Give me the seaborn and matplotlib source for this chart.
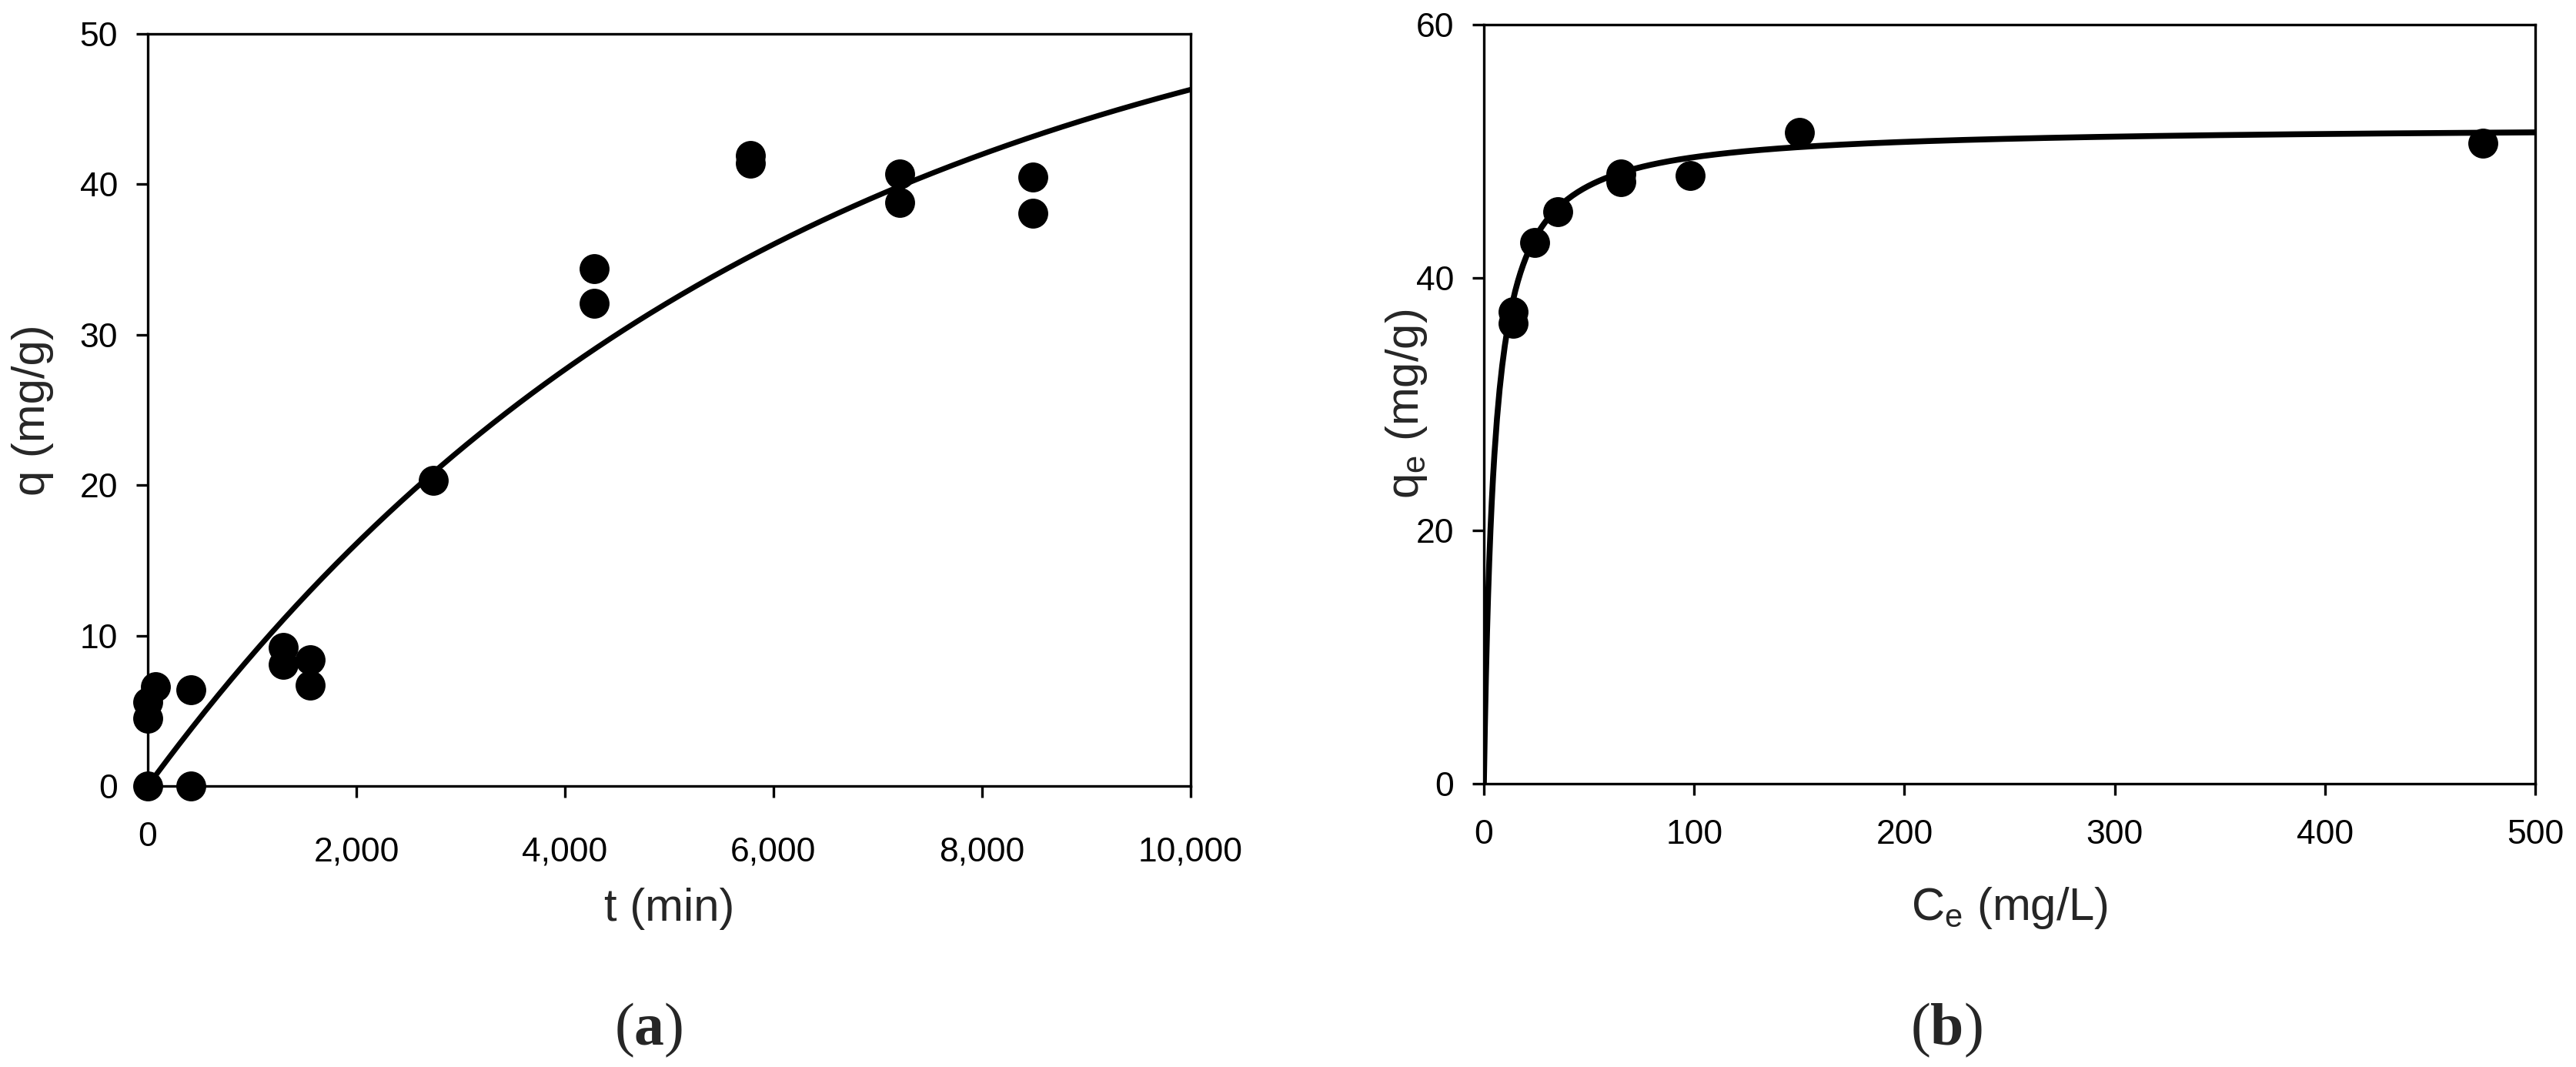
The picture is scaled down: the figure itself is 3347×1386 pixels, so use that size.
import numpy as np
import pandas as pd
import seaborn as sns
import matplotlib
matplotlib.use("Agg")
import matplotlib.pyplot as plt
from matplotlib.ticker import FuncFormatter
from matplotlib.transforms import ScaledTranslation

# -------------------------------
# Data
# -------------------------------
# (a) kinetics
t_min = [0, 0, 0, 70, 410, 410, 1300, 1300, 1560, 1560, 2740,
         4280, 4280, 5780, 5780, 7210, 7210, 8490, 8490]
q_mg_g = [0.0, 4.5, 5.6, 6.6, 6.4, 0.0, 9.2, 8.1, 8.4, 6.7, 20.3,
          34.4, 32.1, 41.9, 41.4, 40.7, 38.8, 40.5, 38.1]
# pseudo-first-order fit, q = qe * (1 - exp(-k t))
pfo_qe = 57.3
pfo_k = 1.65e-4

# (b) isotherm
ce_mg_l = [14, 14, 24, 35, 65, 65, 98, 150, 475]
qe_mg_g = [37.3, 36.4, 42.8, 45.2, 48.2, 47.6, 48.1, 51.5, 50.6]
# Langmuir fit, qe = qm * KL * Ce / (1 + KL * Ce)
lang_qm = 52.0
lang_kl = 0.2

kin = pd.DataFrame({"t": t_min, "q": q_mg_g})
iso = pd.DataFrame({"Ce": ce_mg_l, "qe": qe_mg_g})

t_fit = np.linspace(0, 10000, 400)
kin_fit = pd.DataFrame({"t": t_fit, "q": pfo_qe * (1 - np.exp(-pfo_k * t_fit))})
c_fit = np.concatenate([np.linspace(0, 5, 200), np.linspace(5, 500, 400)])
iso_fit = pd.DataFrame({"Ce": c_fit, "qe": lang_qm * lang_kl * c_fit / (1 + lang_kl * c_fit)})

# -------------------------------
# Style
# -------------------------------
sns.set_style("ticks")
plt.rcParams["font.family"] = ["Liberation Sans", "DejaVu Sans"]
plt.rcParams["mathtext.fontset"] = "custom"
plt.rcParams["mathtext.bf"] = "Liberation Serif:bold"
plt.rcParams["axes.linewidth"] = 2.4
plt.rcParams["axes.edgecolor"] = "black"

fig = plt.figure(figsize=(33.47, 13.86), dpi=100)
ax1 = fig.add_axes([0.05737, 0.26335, 0.4048, 0.7049])
ax2 = fig.add_axes([0.57604, 0.26551, 0.40812, 0.7114])

tick_fs = 32
label_fs = 43

for ax in (ax1, ax2):
    ax.tick_params(direction="out", length=11, width=2.4, labelsize=tick_fs,
                   colors="black")
    ax.tick_params(axis="y", pad=17)
    ax.tick_params(axis="x", pad=22)
    for s in ax.spines.values():
        s.set_visible(True)
        s.set_color("black")

# -------------------------------
# (a) kinetics
# -------------------------------
sns.lineplot(data=kin_fit, x="t", y="q", ax=ax1, color="black", linewidth=5)
sns.scatterplot(data=kin, x="t", y="q", ax=ax1, color="black", s=28 ** 2,
                linewidth=0, clip_on=False, zorder=5)
ax1.set_xlim(0, 10000)
ax1.set_ylim(0, 50)
ax1.set_xticks(range(0, 10001, 2000))
ax1.set_yticks(range(0, 51, 10))
ax1.xaxis.set_major_formatter(FuncFormatter(lambda v, p: f"{int(v):,}"))
ax1.set_xlabel("t (min)", fontsize=label_fs)
ax1.set_ylabel("q (mg/g)", fontsize=label_fs)
ax1.xaxis.set_label_coords(0.5, -0.135)
ax1.xaxis.label.set_va("top")
ax1.yaxis.set_label_coords(-0.090, 0.5)

# the comma labels sit a little lower than "0" in the original
for lab in ax1.get_xticklabels()[1:]:
    lab.set_transform(lab.get_transform() +
                      ScaledTranslation(0, -20 / 100, fig.dpi_scale_trans))

# -------------------------------
# (b) isotherm
# -------------------------------
sns.lineplot(data=iso_fit, x="Ce", y="qe", ax=ax2, color="black", linewidth=5.5)
sns.scatterplot(data=iso, x="Ce", y="qe", ax=ax2, color="black", s=28 ** 2,
                linewidth=0, clip_on=False, zorder=5)
ax2.set_xlim(0, 500)
ax2.set_ylim(0, 60)
ax2.set_xticks(range(0, 501, 100))
ax2.set_yticks(range(0, 61, 20))
ax2.set_xlabel(r"C$_\mathregular{e}$ (mg/L)", fontsize=label_fs)
ax2.set_ylabel(r"q$_\mathregular{e}$ (mg/g)", fontsize=label_fs)
ax2.xaxis.set_label_coords(0.5, -0.134)
ax2.xaxis.label.set_va("top")
ax2.yaxis.set_label_coords(-0.052, 0.5)

# panel tags
fig.text(843 / 3347, 1 - 1338 / 1386, r"($\mathbf{a}$)", family="Liberation Serif",
         fontsize=56, ha="center", va="center")
fig.text(2529 / 3347, 1 - 1338 / 1386, r"($\mathbf{b}$)", family="Liberation Serif",
         fontsize=56, ha="center", va="center")

fig.savefig("out.png", dpi=100, facecolor="white")
